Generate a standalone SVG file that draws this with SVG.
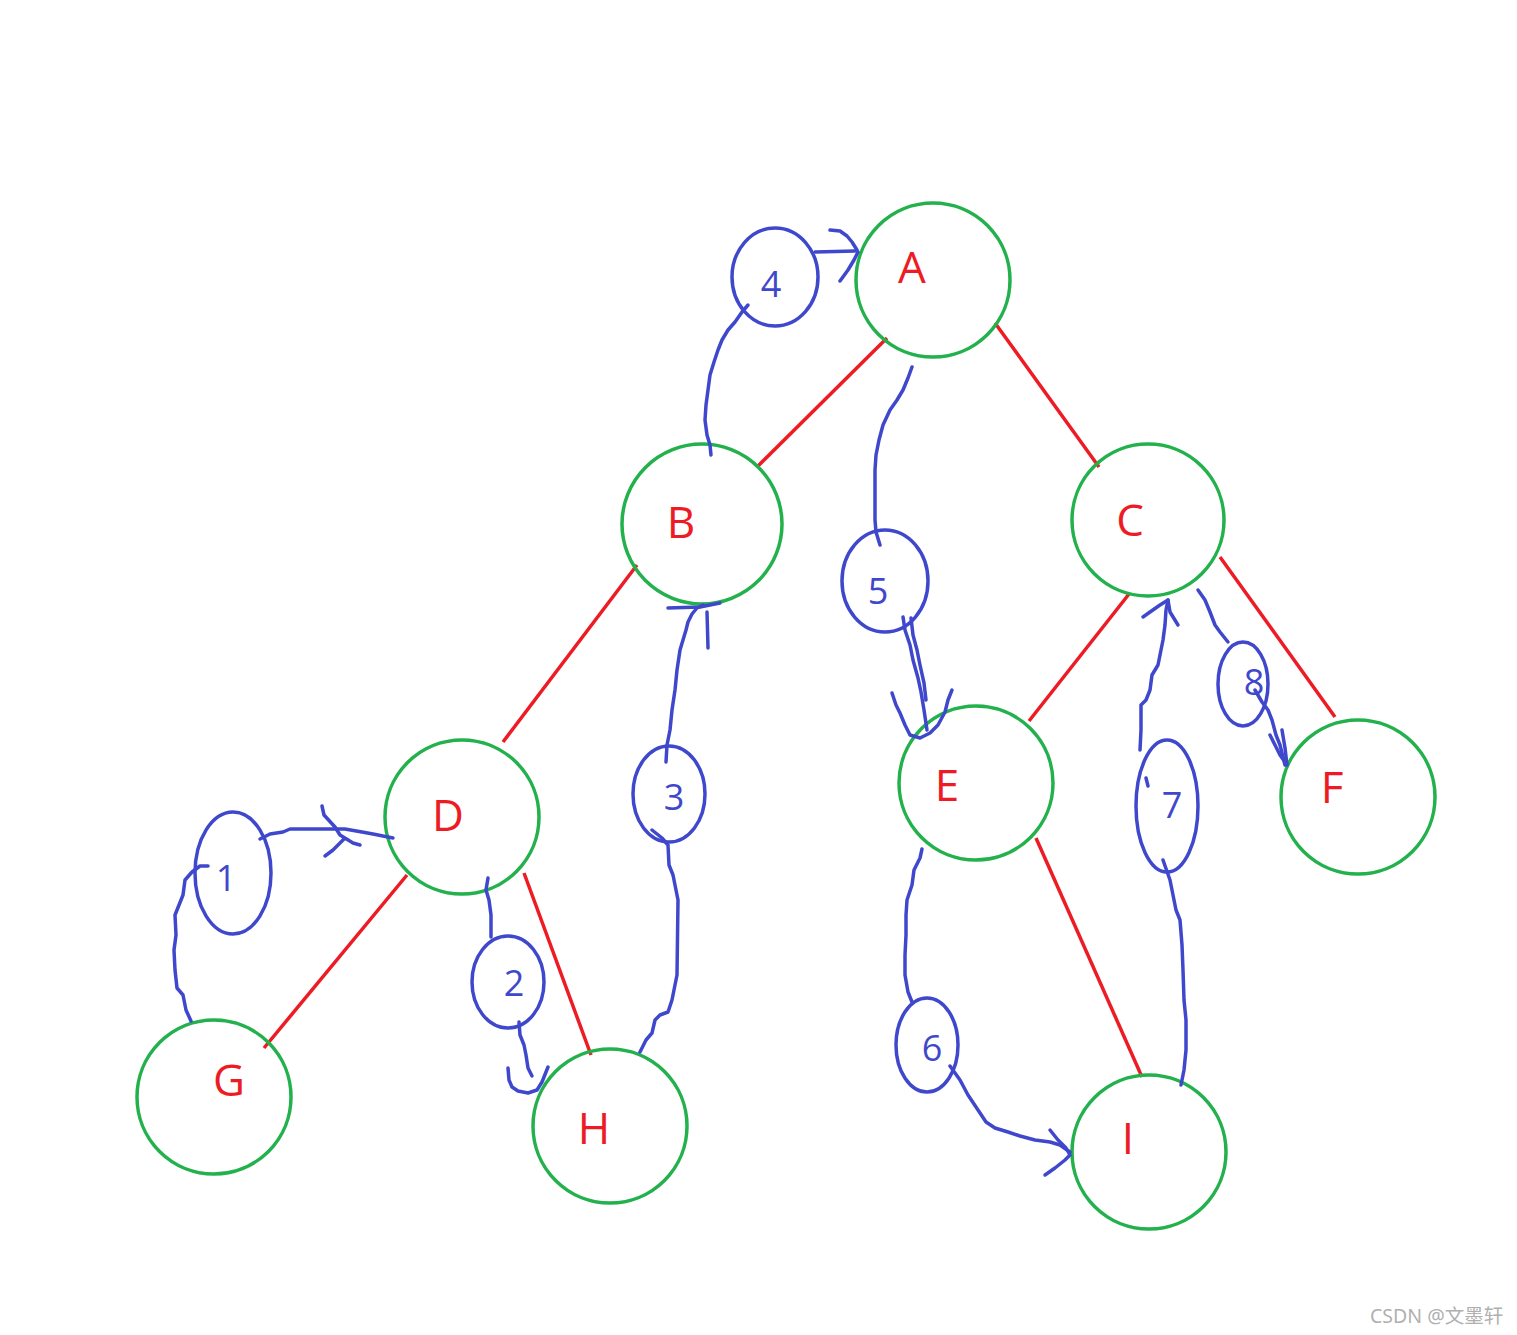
<svg xmlns="http://www.w3.org/2000/svg" width="1517" height="1335" viewBox="0 0 1517 1335">
<style>
.node{fill:none;stroke:#22b14c;stroke-width:3.5}
.lbl{fill:#ed1c24;font-family:"Open Sans","Noto Sans",sans-serif;font-size:44px;text-anchor:middle}
.edge{stroke:#ed1c24;stroke-width:3.5;fill:none}
.blue{fill:none;stroke:#3f48cc;stroke-width:3.5;stroke-linecap:round;stroke-linejoin:round}
.num{fill:#3f48cc;font-family:"Open Sans","Noto Sans",sans-serif;font-size:36px;text-anchor:middle}
.wm{fill:#b0b0b0;font-family:"Noto Sans","Noto Sans CJK SC",sans-serif;font-size:19.5px}
</style>
<rect width="1517" height="1335" fill="#ffffff"/>
<g id="edges">
<line class="edge" x1="887" y1="338" x2="758" y2="466"/>
<line class="edge" x1="995" y1="323" x2="1099" y2="467"/>
<line class="edge" x1="637" y1="565" x2="503" y2="742"/>
<line class="edge" x1="1129" y1="594" x2="1029" y2="721"/>
<line class="edge" x1="1220" y1="557" x2="1335" y2="717"/>
<line class="edge" x1="407" y1="875" x2="264" y2="1048"/>
<line class="edge" x1="524" y1="873" x2="591" y2="1055"/>
<line class="edge" x1="1036" y1="838" x2="1142" y2="1077"/>
</g>
<g id="node-A"><circle class="node" cx="933" cy="280" r="77"/><text class="lbl" x="912" y="283">A</text></g>
<g id="node-B"><circle class="node" cx="702" cy="524" r="80"/><text class="lbl" x="681" y="538">B</text></g>
<g id="node-C"><circle class="node" cx="1148" cy="520" r="76"/><text class="lbl" x="1130" y="536">C</text></g>
<g id="node-D"><circle class="node" cx="462" cy="817" r="77"/><text class="lbl" x="448" y="831">D</text></g>
<g id="node-E"><circle class="node" cx="976" cy="783" r="77"/><text class="lbl" x="947" y="801">E</text></g>
<g id="node-F"><circle class="node" cx="1358" cy="797" r="77"/><text class="lbl" x="1332" y="803">F</text></g>
<g id="node-G"><circle class="node" cx="214" cy="1097" r="77"/><text class="lbl" x="229" y="1096">G</text></g>
<g id="node-H"><circle class="node" cx="610" cy="1126" r="77"/><text class="lbl" x="594" y="1144">H</text></g>
<g id="node-I"><circle class="node" cx="1149" cy="1152" r="77"/><text class="lbl" x="1128" y="1154">I</text></g>
<g id="connectors">
<g id="step-1">
<ellipse class="blue" cx="233" cy="873" rx="38" ry="61"/>
<text class="num" x="226" y="891">1</text>
<path class="blue" d="M191,1021 L186,1010 L183,995 L177,988 L175,970 L174,950 L176,935 L175,915 L179,905 L183,895 L185,880 L192,872 L200,866 L208,866"/>
<path class="blue" d="M260,839 L270,834 L283,832 L290,829 L345,829 L362,832 L373,834 L393,838"/>
<path class="blue" d="M322,806 L324,815 L335,827 L340,835 L353,843 L360,845 M325,856 L333,850 L340,843 L345,838"/>
</g>
<g id="step-2">
<ellipse class="blue" cx="508" cy="982" rx="36" ry="46"/>
<text class="num" x="514" y="996">2</text>
<path class="blue" d="M488,878 L486,890 L489,900 L491,915 L491,937"/>
<path class="blue" d="M519,1022 L520,1035 L524,1045 L526,1055 L528,1068 L532,1076"/>
<path class="blue" d="M508,1068 L509,1080 L512,1087 L518,1091 L528,1093 L537,1090 L542,1082 L548,1067"/>
</g>
<g id="step-3">
<ellipse class="blue" cx="669" cy="794" rx="36" ry="48"/>
<text class="num" x="674" y="810">3</text>
<path class="blue" d="M640,1052 L646,1040 L652,1033 L655,1020 L660,1015 L668,1012 L672,1000 L675,985 L677,975 L678,900 L675,885 L673,875 L669,865 L668,845 L662,838 L652,830"/>
<path class="blue" d="M666,762 L667,745 L670,730 L672,710 L675,690 L677,670 L680,650 L683,640 L686,630 L688,622 L692,614 L697,608 L703,605"/>
<path class="blue" d="M668,608 L700,607 L720,603 M707,612 L708,648"/>
</g>
<g id="step-4">
<ellipse class="blue" cx="775" cy="277" rx="43" ry="49"/>
<text class="num" x="771" y="297">4</text>
<path class="blue" d="M711,455 L710,445 L707,435 L705,420 L706,405 L708,390 L710,375 L714,362 L718,350 L722,340 L728,330 L735,322 L742,312 L748,305"/>
<path class="blue" d="M815,252 L855,251"/>
<path class="blue" d="M830,230 L840,231 L847,236 L852,242 L857,250 M840,281 L848,270 L854,260 L858,252"/>
</g>
<g id="step-5">
<ellipse class="blue" cx="885" cy="581" rx="43" ry="51"/>
<text class="num" x="878" y="604">5</text>
<path class="blue" d="M912,367 L908,378 L903,390 L897,400 L890,410 L883,425 L879,440 L876,455 L875,470 L875,500 L875,520 L876,532 L880,545"/>
<path class="blue" d="M903,617 L905,630 L910,645 L913,660 L918,678 L921,692 L924,710 L927,730 M911,618 L913,635 L917,650 L920,665 L924,683 L926,700"/>
<path class="blue" d="M892,693 L896,705 L900,713 L905,725 L910,735 L920,738 L930,733 L938,725 L945,712 L948,700 L952,690"/>
</g>
<g id="step-6">
<ellipse class="blue" cx="927" cy="1045" rx="31" ry="47"/>
<text class="num" x="932" y="1061">6</text>
<path class="blue" d="M922,849 L920,858 L914,870 L912,885 L907,900 L906,915 L906,935 L905,955 L905,975 L908,992 L912,1002"/>
<path class="blue" d="M950,1066 L960,1080 L968,1095 L978,1110 L986,1122 L995,1128 L1008,1132 L1020,1136 L1035,1140 L1050,1142 L1060,1145 L1070,1152"/>
<path class="blue" d="M1050,1130 L1058,1140 L1066,1148 L1070,1155 M1045,1175 L1055,1168 L1065,1160 L1070,1155"/>
</g>
<g id="step-7">
<ellipse class="blue" cx="1167" cy="806" rx="31" ry="66"/>
<text class="num" x="1172" y="818">7</text>
<path class="blue" d="M1181,1085 L1184,1070 L1186,1050 L1186,1020 L1184,1000 L1183,970 L1182,945 L1180,920 L1176,910 L1173,895 L1170,880 L1163,860"/>
<path class="blue" d="M1140,750 L1141,730 L1141,705 L1146,700 L1150,690 L1152,675 L1158,665 L1161,650 L1163,640 L1165,625 L1166,610 L1168,600"/>
<path class="blue" d="M1143,617 L1150,612 L1160,605 L1168,600 L1170,612 L1178,625"/>
<path class="blue" d="M1146,778 L1148,786"/>
</g>
<g id="step-8">
<ellipse class="blue" cx="1243" cy="684" rx="25" ry="42"/>
<text class="num" x="1254" y="695">8</text>
<path class="blue" d="M1198,590 L1205,600 L1210,612 L1215,625 L1220,632 L1228,642"/>
<path class="blue" d="M1255,690 L1262,702 L1268,710 L1272,720 L1276,735 L1280,745 L1285,765"/>
<path class="blue" d="M1270,735 L1275,745 L1280,755 L1287,765 L1285,748 L1282,730"/>
</g>
</g>
<text class="wm" x="1370" y="1323">CSDN @文墨轩</text>
</svg>
